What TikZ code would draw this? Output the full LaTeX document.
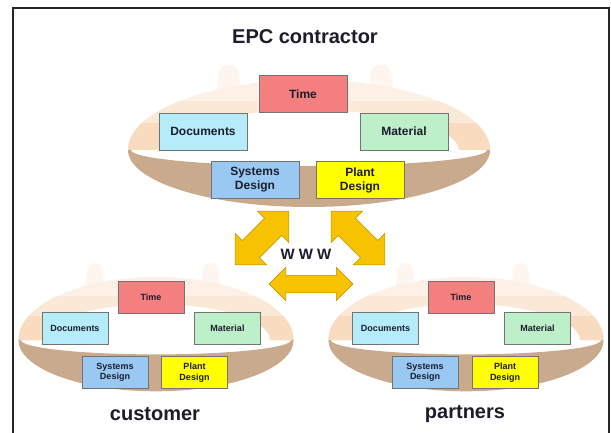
\documentclass[tikz,border=0pt]{standalone}
\usepackage{fontspec}
\setmainfont{Liberation Sans}
\usetikzlibrary{positioning,shapes.arrows}

\definecolor{ringback}{HTML}{F8D2B0}
\definecolor{ringfront}{HTML}{C9AA8C}
\definecolor{timecol}{HTML}{F47F7F}
\definecolor{doccol}{HTML}{B5ECFA}
\definecolor{matcol}{HTML}{BDF0C9}
\definecolor{syscol}{HTML}{99C9F2}
\definecolor{plantcol}{HTML}{FFFF00}
\definecolor{wwwcol}{HTML}{F7C200}
\definecolor{boxtext}{HTML}{1C1C2C}

\tikzset{
  item/.style={draw=black!55,line width=0.6pt,text=boxtext,align=center,
    font=\bfseries\fontsize{12}{14}\selectfont,minimum width=88pt,minimum height=37pt,inner sep=1pt},
  smallbox/.style={font=\bfseries\fontsize{9}{10.5}\selectfont,minimum width=66pt,minimum height=32pt},
  ringname/.style={text=boxtext,font=\bfseries\fontsize{20}{24}\selectfont},
  webarrow/.style={double arrow,fill=wwwcol,draw=wwwcol!75!black,line width=0.5pt,inner xsep=0pt}
}

\newcommand\backband{(-181,0) arc[start angle=180,end angle=0,x radius=181,y radius=70]
      -- (150,0) arc[start angle=0,end angle=180,x radius=150,y radius=40] -- cycle}

\newcommand\cyclering[4]{%
  \begin{scope}[shift={(#1,#2)},xscale=#3,yscale=#4]
    \fill[ringback!22] (-94,45) -- (-90,78) .. controls (-88,88) and (-72,88) .. (-70,78) -- (-66,45) -- cycle;
    \fill[ringback!22] (58,45) -- (62,78) .. controls (64,88) and (80,88) .. (82,78) -- (86,45) -- cycle;
    \fill[ringback!30] \backband;
    \begin{scope}
      \clip (-190,0) rectangle (190,48);
      \fill[ringback!50] \backband;
    \end{scope}
    \begin{scope}
      \clip (-190,0) rectangle (190,26);
      \fill[ringback!80] \backband;
    \end{scope}
    \fill[ringfront] (-181,0) arc[start angle=180,end angle=360,x radius=181,y radius=57]
      -- (178,0) arc[start angle=0,end angle=-180,x radius=178,y radius=16] -- cycle;
  \end{scope}}

\begin{document}
\begin{tikzpicture}[x=1pt,y=1pt,on grid]
  \useasboundingbox (0,0) rectangle (611,432);
  \fill[white] (0,0) rectangle (611,432);
  \cyclering{309}{282}{1}{1}
  \cyclering{156}{92}{0.76}{0.9}
  \cyclering{466}{92}{0.76}{0.9}
  \draw[black!85,line width=1.5pt] (13,424) rectangle (609,-10);

  \node[ringname] (epc) at (305,395) {EPC contractor};
  \node[item,fill=timecol] (time1) at (303,338) {Time};
  \node[item,fill=doccol] (doc1) [below left=37.5pt and 100pt of time1] {Documents};
  \node[item,fill=matcol] (mat1) [below right=37.5pt and 101pt of time1] {Material};
  \node[item,fill=syscol] (sys1) [below left=86pt and 48pt of time1] {Systems\\Design};
  \node[item,fill=plantcol] (plant1) [below right=86pt and 57pt of time1] {Plant\\Design};

  \node[item,smallbox,fill=timecol] (time2) at (151,135) {Time};
  \node[item,smallbox,fill=doccol] (doc2) [below left=31pt and 76pt of time2] {Documents};
  \node[item,smallbox,fill=matcol] (mat2) [below right=31pt and 76.5pt of time2] {Material};
  \node[item,smallbox,fill=syscol] (sys2) [below left=75.5pt and 36pt of time2] {Systems\\Design};
  \node[item,smallbox,fill=plantcol] (plant2) [below right=75.5pt and 43.5pt of time2] {Plant\\Design};
  \node[ringname] (customer) at (155,18) {customer};

  \node[item,smallbox,fill=timecol] (time3) at (461,135) {Time};
  \node[item,smallbox,fill=doccol] (doc3) [below left=31pt and 75.5pt of time3] {Documents};
  \node[item,smallbox,fill=matcol] (mat3) [below right=31pt and 76.5pt of time3] {Material};
  \node[item,smallbox,fill=syscol] (sys3) [below left=75.5pt and 36pt of time3] {Systems\\Design};
  \node[item,smallbox,fill=plantcol] (plant3) [below right=75.5pt and 44pt of time3] {Plant\\Design};
  \node[ringname] (partners) at (465,18) {partners};

  \node[webarrow,minimum height=76pt,inner ysep=12pt,double arrow head extend=10pt,rotate=45] (webleft) at (262,194) {};
  \node[webarrow,minimum height=76pt,inner ysep=12pt,double arrow head extend=10pt,rotate=135] (webright) at (358,194) {};
  \node[webarrow,minimum height=84pt,inner ysep=8.5pt,double arrow head extend=8pt] (webbottom) at (311,148) {};
  \node[text=boxtext,font=\bfseries\fontsize{15}{18}\selectfont] (www) at (306,178) {W W W};
\end{tikzpicture}
\end{document}
